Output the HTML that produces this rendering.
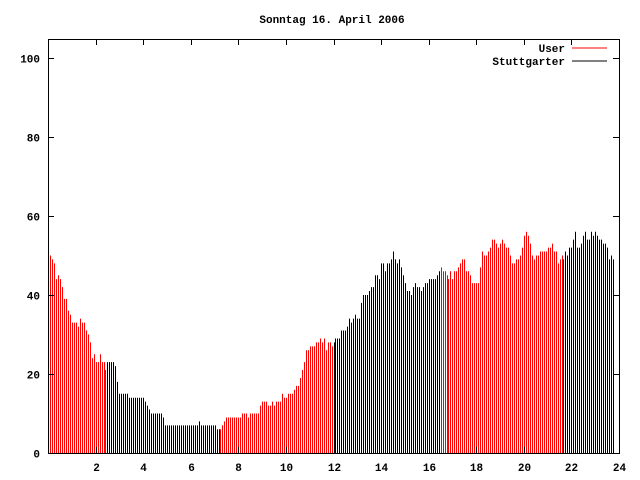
<!DOCTYPE html>
<html><head><meta charset="utf-8"><style>
html,body{margin:0;padding:0;background:#fff;}
svg{display:block;font-family:"Liberation Mono",monospace;font-size:11px;font-weight:bold;}
</style></head><body>
<svg id="chart" width="640" height="480" xmlns="http://www.w3.org/2000/svg">
<text x="332" y="23" text-anchor="middle">Sonntag 16. April 2006</text>
<g id="bars"></g>
<g id="axes"></g>
<g>
<text x="565" y="52" text-anchor="end">User</text>
<line x1="572" y1="48" x2="607" y2="48" stroke="#ff0000" stroke-width="1"/>
<text x="565" y="65" text-anchor="end">Stuttgarter</text>
<line x1="572" y1="61" x2="607" y2="61" stroke="#000" stroke-width="1"/>
</g>
</svg>
<script>
const values = [51,50,49,48,44,45,44,42,39,39,36,35,33,33,33,32,34,33,33,31,30,28,24,25,23,23,25,23,23,21,23,23,23,23,22,18,15,15,15,15,15,14,14,14,14,14,
14,14,14,13,12,11,10,10,10,10,10,10,9,7,7,7,7,7,7,7,7,7,7,7,7,7,7,7,7,7,8,7,7,7,7,7,7,7,7,6,6,6,7,8,9,9,9,9,
9,9,9,9,10,10,10,9,10,10,10,10,10,12,13,13,13,12,12,13,12,13,13,13,15,14,14,15,15,15,16,17,17,19,21,23,26,26,27,27,27,28,28,29,28,29,26,28,28,27,
28,29,29,29,31,31,31,32,34,33,34,35,34,34,38,40,40,40,41,42,42,45,45,44,48,48,46,48,48,49,51,49,48,49,47,45,43,41,41,40,42,43,42,42,41,42,43,43,44,
44,44,44,45,46,47,46,46,45,44,46,44,46,46,47,48,49,49,46,46,45,43,43,43,43,47,51,50,50,51,52,54,54,53,52,53,54,53,52,52,50,48,48,49,49,50,52,55,56,
55,53,50,49,50,50,51,51,51,51,52,52,53,51,51,48,49,50,49,51,50,52,52,54,56,52,52,53,55,56,54,54,56,55,56,55,54,54,53,53,52,49,50,49];
const segStarts = [0, 2.42, 7.25, 12.0, 16.5, 21.65];
const segSeries = ["User","Stuttgarter","User","Stuttgarter","User","Stuttgarter"];
const yTicks = [0,20,40,60,80,100];
const xTicks = [2,4,6,8,10,12,14,16,18,20,22,24];
const X0=48,X1=619,Y0=453,Y1=39,XMAX=24,YMAX=104.8;
const xs = h => X0 + h*(X1-X0)/XMAX;
const ys = v => Y0 - v*(Y0-Y1)/YMAX;
const NS="http://www.w3.org/2000/svg";
const bars=document.getElementById('bars'), axes=document.getElementById('axes');
function seriesAt(h){let s=segSeries[0];for(let i=0;i<segStarts.length;i++){if(h>=segStarts[i])s=segSeries[i];}return s;}
values.forEach((v,i)=>{
  const h=i/12;
  const x=Math.round(xs(h))+0.5;
  const l=document.createElementNS(NS,'line');
  
  
  l.setAttribute('x1',x);l.setAttribute('x2',x);
  l.setAttribute('y1',Y0);l.setAttribute('y2',ys(v));
  l.setAttribute('stroke',seriesAt(h)==="User"?'#ff0000':'#000');
  l.setAttribute('stroke-width','1');
  bars.appendChild(l);
});
const box=document.createElementNS(NS,'rect');


box.setAttribute('x',X0+0.5);box.setAttribute('y',Y1+0.5);
box.setAttribute('width',X1-X0);box.setAttribute('height',Y0-Y1);
box.setAttribute('fill','none');box.setAttribute('stroke','#000');
axes.appendChild(box);
yTicks.forEach(t=>{
  const y=Math.round(ys(t))+0.5;
  [[X0,X0+6],[X1-6,X1]].forEach(p=>{
    const l=document.createElementNS(NS,'line');
    
    
    l.setAttribute('x1',p[0]);l.setAttribute('x2',p[1]);l.setAttribute('y1',y);l.setAttribute('y2',y);
    l.setAttribute('stroke','#000');axes.appendChild(l);
  });
  const tx=document.createElementNS(NS,'text');
  
  
  tx.setAttribute('x',40);tx.setAttribute('y',y+4);tx.setAttribute('text-anchor','end');
  tx.textContent=t;axes.appendChild(tx);
});
xTicks.forEach(t=>{
  const x=Math.round(xs(t))+0.5;
  [[Y0,Y0-6],[Y1,Y1+6]].forEach(p=>{
    const l=document.createElementNS(NS,'line');
    
    
    l.setAttribute('x1',x);l.setAttribute('x2',x);l.setAttribute('y1',p[0]);l.setAttribute('y2',p[1]);
    l.setAttribute('stroke','#000');axes.appendChild(l);
  });
  const tx=document.createElementNS(NS,'text');
  
  
  tx.setAttribute('x',x);tx.setAttribute('y',471);tx.setAttribute('text-anchor','middle');
  tx.textContent=t;axes.appendChild(tx);
});
</script>
</body></html>
